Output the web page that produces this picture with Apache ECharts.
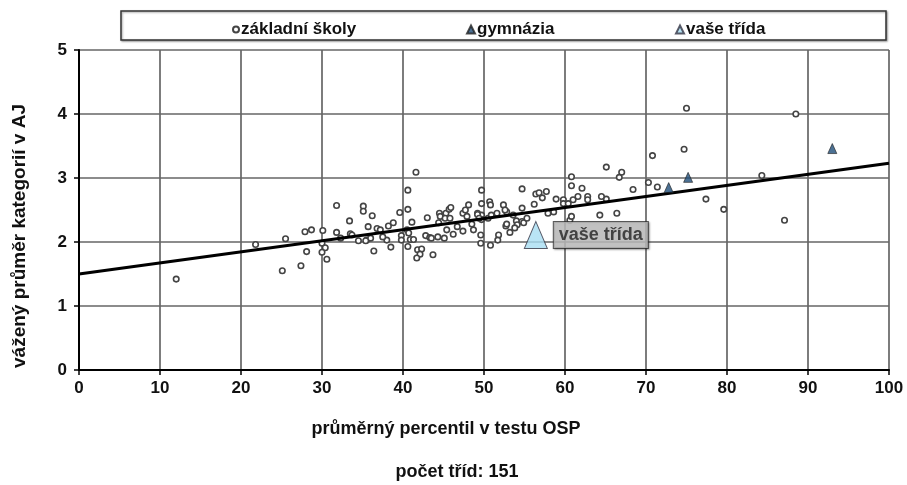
<!DOCTYPE html>
<html><head><meta charset="utf-8">
<script src="https://cdn.jsdelivr.net/npm/echarts@6/dist/echarts.min.js"></script>
<style>html,body{margin:0;padding:0;background:#fff}#c{width:907px;height:485px}</style>
</head><body><div id="c"></div>
<script>
// základní školy: [průměrný percentil, vážený průměr]
const zakladniSkoly = [
[12.0,1.42],[21.8,1.96],[25.1,1.55],[25.5,2.05],[27.4,1.63],[27.9,2.16],[28.7,2.19],[28.1,1.85],
[30.1,2.18],[31.8,2.57],[31.8,2.15],[33.4,2.33],[33.5,2.13],[34.5,2.02],[30.0,1.98],[30.4,1.91],
[30.0,1.84],[30.6,1.73],[35.1,2.56],[35.1,2.48],[36.2,2.41],[35.7,2.24],[35.5,2.03],[36.0,2.06],
[36.8,2.21],[37.2,2.19],[36.4,1.86],[38.2,2.25],[38.0,2.03],[38.5,1.92],[39.6,2.46],[39.8,2.10],
[39.8,2.03],[40.6,2.81],[40.6,2.51],[40.5,2.19],[41.6,3.09],[41.1,2.31],[40.7,2.14],[40.9,2.04],
[41.3,2.04],[40.6,1.93],[41.8,1.88],[42.3,1.89],[42.1,1.81],[41.7,1.75],[42.8,2.10],[43.3,2.07],
[43.5,2.06],[43.7,1.80],[44.3,2.08],[44.5,2.45],[44.6,2.40],[45.3,2.45],[45.2,2.37],[45.4,2.19],
[45.7,2.51],[45.9,2.54],[45.1,2.06],[45.8,2.37],[47.4,2.45],[47.7,2.50],[48.1,2.58],[47.9,2.40],
[47.4,2.17],[48.5,2.28],[48.7,2.19],[49.2,2.45],[49.7,2.81],[49.7,2.60],[49.7,2.42],[49.7,2.35],
[49.6,2.11],[49.6,1.98],[50.7,2.63],[50.8,2.58],[50.5,2.37],[50.8,1.95],[51.6,2.45],[51.8,2.11],
[51.7,2.03],[52.7,2.25],[52.8,2.47],[54.7,2.83],[56.4,2.75],[56.8,2.77],[57.2,2.69],[57.7,2.79],
[52.4,2.58],[52.6,2.50],[54.7,2.53],[56.2,2.59],[58.9,2.67],[58.6,2.47],[52.8,2.28],[53.6,2.42],
[54.0,2.33],[54.1,2.27],[53.8,2.22],[54.7,2.32],[54.9,2.30],[55.3,2.37],[59.8,2.66],[59.8,2.60],
[60.4,2.60],[61.0,2.66],[60.8,3.02],[60.8,2.88],[60.6,2.34],[62.1,2.84],[61.6,2.71],[62.8,2.71],
[62.8,2.66],[64.3,2.42],[65.1,3.17],[65.1,2.67],[74.7,3.45],[70.8,3.35],[67.0,3.09],[66.7,3.01],
[70.3,2.93],[71.4,2.86],[68.4,2.82],[64.5,2.71],[77.4,2.67],[66.4,2.45],[60.8,2.40],[75.0,4.09],
[88.5,4.00],[84.3,3.04],[79.6,2.51],[87.1,2.34],[49.2,2.43],[49.4,2.37],[35.4,2.02],[33.7,2.11],
[50.9,2.42],[44.4,2.30],[46.7,2.24],[43.0,2.38],[57.9,2.45],[53.2,2.15],[46.2,2.12],[38.8,2.30],
[32.3,2.06],[37.5,2.08]
];
const gymnazia = [[72.8,2.85],[75.2,3.01],[93.0,3.46]];
const vaseTrida = [[56.4,2.11]];
const trendX = [0, 100];
const trendY = [1.50, 3.23];
const xTicks = {min:0, max:100, interval:10};
const yTicks = {min:0, max:5, interval:1};
const FONT = "'Liberation Sans', Arial, sans-serif";

const chart = echarts.init(document.getElementById('c'), null, {renderer:'canvas'});
const legendBase = {top: 16, itemGap: 10, itemWidth: 8, itemHeight: 8,
  textStyle:{fontFamily: FONT, fontWeight:'bold', fontSize:17, color:'#111', padding:[0,0,0,-3]}};
chart.setOption({
  animation:false,
  backgroundColor:'#fff',
  grid:{left:79, right:18, top:50, bottom:115, containLabel:false},
  graphic:[
    {type:'rect', shape:{x:121, y:11, width:765, height:29}, style:{fill:'#fff', stroke:'#333', lineWidth:1.5, shadowColor:'rgba(0,0,0,0.35)', shadowOffsetX:1, shadowOffsetY:1, shadowBlur:2}, z:-1},
    {type:'text', x:20, y:236, rotation:Math.PI/2, style:{text:'vážený průměr kategorií v AJ', fontFamily:FONT, fontWeight:'bold', fontSize:19, fill:'#111', align:'center', verticalAlign:'middle'}},
    {type:'text', x:446, y:429, style:{text:'průměrný percentil v testu OSP', fontFamily:FONT, fontWeight:'bold', fontSize:18, fill:'#111', align:'center', verticalAlign:'middle'}},
    {type:'text', x:457, y:472, style:{text:'počet tříd: 151', fontFamily:FONT, fontWeight:'bold', fontSize:18, fill:'#111', align:'center', verticalAlign:'middle'}}
  ],
  legend:[
    Object.assign({}, legendBase, {left:227, data:[{name:'základní školy', icon:'circle'}], itemWidth:6, itemHeight:6}),
    Object.assign({}, legendBase, {left:461, data:[{name:'gymnázia', icon:'triangle'}]}),
    Object.assign({}, legendBase, {left:670, data:[{name:'vaše třída', icon:'triangle'}]})
  ],
  xAxis:{type:'value', min:xTicks.min, max:xTicks.max, interval:xTicks.interval,
    axisLine:{show:true, onZero:false, lineStyle:{color:'#000', width:2}},
    axisTick:{show:true, length:5, lineStyle:{color:'#000', width:1.5}},
    axisLabel:{fontFamily:FONT, fontWeight:'bold', fontSize:17, color:'#111', margin:10},
    splitLine:{show:true, lineStyle:{color:'#666', width:1.7}}},
  yAxis:{type:'value', min:yTicks.min, max:yTicks.max, interval:yTicks.interval,
    axisLine:{show:true, onZero:false, lineStyle:{color:'#000', width:2}},
    axisTick:{show:true, length:5, lineStyle:{color:'#000', width:1.5}},
    axisLabel:{fontFamily:FONT, fontWeight:'bold', fontSize:17, color:'#111', margin:12},
    splitLine:{show:true, lineStyle:{color:'#666', width:1.7}}},
  series:[
    {name:'základní školy', type:'scatter', data:zakladniSkoly, symbol:'circle', symbolSize:5.5,
      itemStyle:{color:'#fff', borderColor:'#444', borderWidth:1.6, opacity:1}, z:2},
    {name:'trend', type:'line', data:trendX.map((x,i)=>[x,trendY[i]]), symbol:'none',
      lineStyle:{color:'#000', width:3}, z:3, silent:true},
    {name:'gymnázia', type:'scatter', data:gymnazia, symbol:'triangle', symbolSize:[9,10],
      itemStyle:{color:'#1f4e79', borderColor:'#222', borderWidth:0.8}, z:4},
    {name:'vaše třída', type:'scatter', data:vaseTrida, symbol:'triangle', symbolSize:[23,27],
      itemStyle:{color:'#a8ddf2', borderColor:'#334', borderWidth:1}, z:5,
      label:{show:true, position:'right', distance:6, formatter:'vaše třída',
        fontFamily:FONT, fontWeight:'bold', fontSize:18, color:'#222',
        backgroundColor:'#c3c3c3', borderColor:'#333', borderWidth:1, padding:[5,5,3,5],
        shadowColor:'rgba(0,0,0,0.35)', shadowOffsetX:1, shadowOffsetY:1, shadowBlur:2}}
  ]
});
</script></body></html>
